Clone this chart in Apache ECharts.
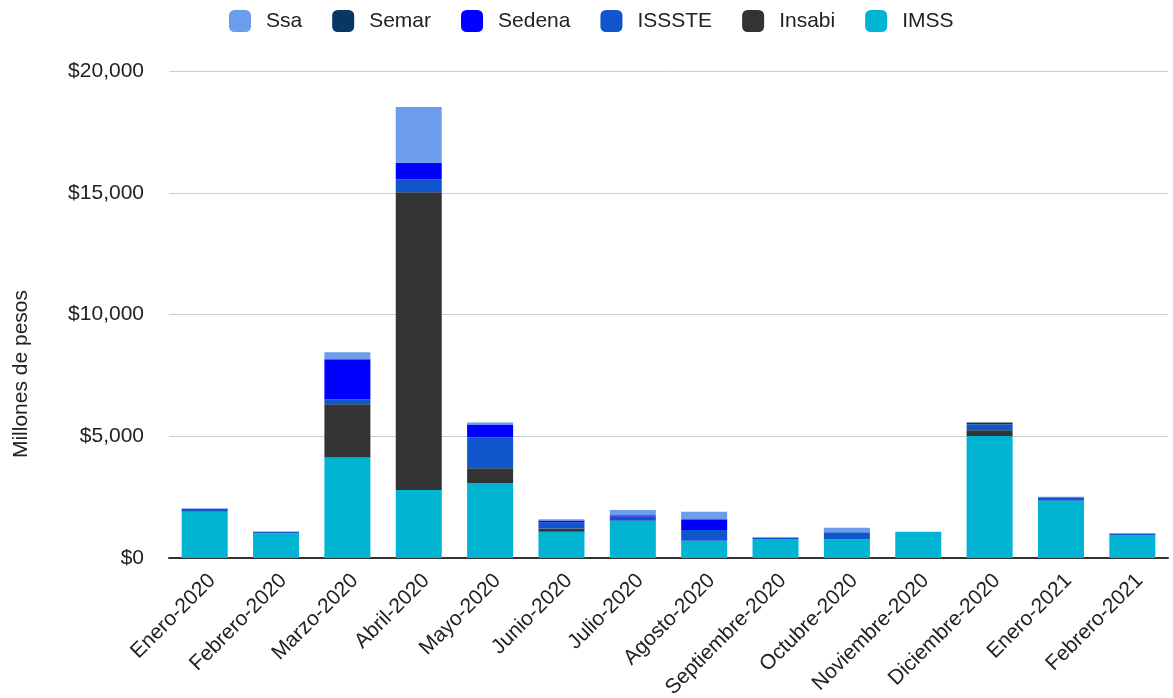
<!DOCTYPE html>
<html><head><meta charset="utf-8">
<script src="https://cdn.jsdelivr.net/npm/echarts@6/dist/echarts.min.js"></script>
<style>html,body{margin:0;padding:0;background:#fff}#c{width:1173px;height:698px}</style>
</head><body><div id="c"></div>
<script>
const categories = ["Enero-2020","Febrero-2020","Marzo-2020","Abril-2020","Mayo-2020","Junio-2020","Julio-2020","Agosto-2020","Septiembre-2020","Octubre-2020","Noviembre-2020","Diciembre-2020","Enero-2021","Febrero-2021"];
const imss   = [1900,1020,4130,2790,3080,1080,1525,710,780,760,1075,5010,2355,925];
const insabi = [0,0,2180,12230,610,130,0,0,0,0,0,235,0,0];
const issste = [125,55,200,530,1270,260,175,435,60,300,0,235,140,80];
const sedena = [0,0,1650,680,520,70,60,450,0,0,0,0,0,0];
const semar  = [0,0,0,0,0,0,0,0,0,0,0,80,0,0];
const ssa    = [20,10,290,2290,80,50,215,300,15,180,0,0,20,0];
const yTicks = [0,5000,10000,15000,20000];

const font = 'Liberation Sans, Arial, sans-serif';
const mk = (name, data, color) => ({name, type:'bar', stack:'t', data, barWidth:46,
  itemStyle:{color}, emphasis:{disabled:true}});
const chart = echarts.init(document.getElementById('c'));
chart.setOption({
  animation:false,
  textStyle:{fontFamily:font},
  legend:{top:10, left:229, padding:0, itemWidth:22, itemHeight:22, itemGap:30,
    icon:'roundRect',
    data:['Ssa','Semar','Sedena','ISSSTE','Insabi','IMSS'],
    textStyle:{fontSize:21, color:'#222', fontFamily:font, padding:[0,0,0,10]}},
  grid:{left:169, right:5, top:71, bottom:140, outerBoundsMode:'none', containLabel:false},
  xAxis:{type:'category', data:categories,
    axisLine:{lineStyle:{color:'#333', width:2}}, axisTick:{show:false},
    axisLabel:{rotate:45, fontSize:21, color:'#222', interval:0, margin:12,
      verticalAlign:'top', fontFamily:font}},
  yAxis:{type:'value', min:yTicks[0], max:yTicks[yTicks.length-1], interval:5000,
    axisLabel:{fontSize:21, color:'#222', margin:25, fontFamily:font,
      formatter:v=>'$'+v.toLocaleString('en-US')},
    splitLine:{lineStyle:{color:'#ccc', width:1}},
    axisLine:{show:false}, axisTick:{show:false}},
  graphic:[{type:'text', left:11, top:290, rotation:Math.PI/2,
    style:{text:'Millones de pesos', fontSize:21, fill:'#222', fontFamily:font}}],
  series:[
    mk('IMSS', imss, '#00b4d2'),
    mk('Insabi', insabi, '#333333'),
    mk('ISSSTE', issste, '#1155cc'),
    mk('Sedena', sedena, '#0000ff'),
    mk('Semar', semar, '#073763'),
    mk('Ssa', ssa, '#6d9eeb')
  ]
});
</script></body></html>
